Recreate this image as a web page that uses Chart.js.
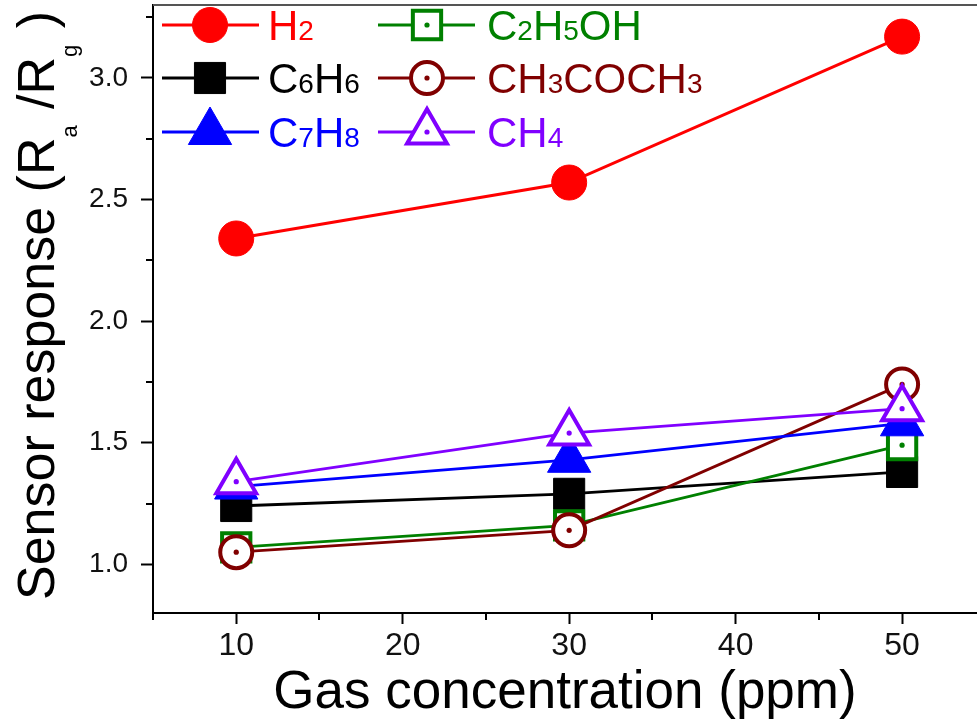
<!DOCTYPE html>
<html>
<head>
<meta charset="utf-8">
<script src="https://cdn.jsdelivr.net/npm/chart.js@4.4.1/dist/chart.umd.min.js"></script>
<style>
    body { margin: 0; background: #fff; }
    canvas { display: block; }
</style>
</head>
<body>
<canvas id="chart" width="977" height="728"></canvas>
<script>
"use strict";

// gas concentrations (ppm)
const concentrations = [10, 30, 50];

// sensor response per gas
const h2Values = [2.34, 2.57, 3.17];
const c6h6Values = [1.24, 1.29, 1.38];
const c7h8Values = [1.32, 1.43, 1.58];
const c2h5ohValues = [1.07, 1.16, 1.49];
const ch3coch3Values = [1.05, 1.14, 1.74];
const ch4Values = [1.34, 1.54, 1.64];

const gasNames = ["H2", "C6H6", "C7H8", "C2H5OH", "CH3COCH3", "CH4"];

const xTicks = [10, 20, 30, 40, 50];
const xMinorTicks = [5, 15, 25, 35, 45];
const yTicks = [1.0, 1.5, 2.0, 2.5, 3.0];
const yMinorTicks = [1.25, 1.75, 2.25, 2.75, 3.25];

(() => {

    const FONT = "'Liberation Sans', Arial, sans-serif";

    function toPoints(values) {
        return concentrations.map((c, i) => ({ x: c, y: values[i] }));
    }

    // style per gas, same order as gasNames
    const styles = [
        { values: h2Values, color: "#ff0000", shape: "circle", radius: 17.5, fill: "#ff0000", border: 1, line: 3, hollow: false, order: 6 },
        { values: c6h6Values, color: "#000000", shape: "rect", radius: 22, fill: "#000000", border: 1, line: 2.8, hollow: false, order: 5 },
        { values: c7h8Values, color: "#0000ff", shape: "triangle", radius: 25, fill: "#0000ff", border: 1, line: 2.8, hollow: false, order: 2 },
        { values: c2h5ohValues, color: "#008000", shape: "rect", radius: 20, fill: "#ffffff", border: 4, line: 2.8, hollow: true, order: 4 },
        { values: ch3coch3Values, color: "#800000", shape: "circle", radius: 16, fill: "#ffffff", border: 4, line: 2.8, hollow: true, order: 3 },
        { values: ch4Values, color: "#8000ff", shape: "triangle", radius: 23, fill: "#ffffff", border: 4, line: 2.8, hollow: true, order: 1 }
    ];

    let datasets = styles.map((s, i) => ({
        label: gasNames[i],
        data: toPoints(s.values),
        borderColor: s.color,
        backgroundColor: s.color,
        borderWidth: s.line,
        pointStyle: s.shape,
        pointRadius: s.radius,
        pointBackgroundColor: s.fill,
        pointBorderColor: s.color,
        pointBorderWidth: s.border,
        tension: 0,
        fill: false,
        clip: false,
        order: s.order,
        hollow: s.hollow
    }));

    function drawMarker(ctx, shape, x, y, r, fill, stroke, lw) {
        ctx.beginPath();
        if (shape === "circle") {
            ctx.arc(x, y, r, 0, Math.PI * 2);
        } else if (shape === "rect") {
            let h = r * Math.SQRT1_2;
            ctx.rect(x - h, y - h, 2 * h, 2 * h);
        } else {
            let a = 0;
            ctx.moveTo(x + Math.sin(a) * r, y - Math.cos(a) * r);
            a += Math.PI * 2 / 3;
            ctx.lineTo(x + Math.sin(a) * r, y - Math.cos(a) * r);
            a += Math.PI * 2 / 3;
            ctx.lineTo(x + Math.sin(a) * r, y - Math.cos(a) * r);
            ctx.closePath();
        }
        ctx.fillStyle = fill;
        ctx.fill();
        ctx.lineWidth = lw;
        ctx.strokeStyle = stroke;
        ctx.stroke();
    }

    // text where digits become subscripts
    function drawFormula(ctx, text, x, y, mainSize, subSize, color) {
        ctx.fillStyle = color;
        ctx.textBaseline = "alphabetic";
        ctx.textAlign = "left";
        for (let ch of text) {
            let isDigit = /[0-9]/.test(ch);
            ctx.font = `${isDigit ? subSize : mainSize}px ${FONT}`;
            ctx.fillText(ch, x, y);
            x += ctx.measureText(ch).width;
        }
    }

    // small dot in the middle of the hollow markers
    const centerDots = {
        id: "centerDots",
        afterDatasetDraw(chart, args) {
            let ds = chart.data.datasets[args.index];
            if (!ds.hollow) return;
            let ctx = chart.ctx;
            ctx.save();
            ctx.fillStyle = ds.borderColor;
            args.meta.data.forEach((pt) => {
                ctx.beginPath();
                ctx.arc(pt.x, pt.y, 2.6, 0, Math.PI * 2);
                ctx.fill();
            });
            ctx.restore();
        }
    };

    const frame = {
        id: "frame",
        afterDraw(chart) {
            let ctx = chart.ctx;
            let area = chart.chartArea;
            let xs = chart.scales.x;
            let ys = chart.scales.y;
            ctx.save();
            // top border
            ctx.strokeStyle = "#555";
            ctx.lineWidth = 2;
            ctx.beginPath();
            ctx.moveTo(area.left, area.top);
            ctx.lineTo(area.right, area.top);
            ctx.stroke();
            // minor ticks
            ctx.strokeStyle = "#000";
            ctx.lineWidth = 2;
            ctx.beginPath();
            xMinorTicks.forEach((v) => {
                let px = Math.round(xs.getPixelForValue(v));
                ctx.moveTo(px, area.bottom);
                ctx.lineTo(px, area.bottom + 7);
            });
            yMinorTicks.forEach((v) => {
                let py = Math.round(ys.getPixelForValue(v));
                ctx.moveTo(area.left, py);
                ctx.lineTo(area.left - 7, py);
            });
            ctx.stroke();
            ctx.restore();
        }
    };

    const yTitle = {
        id: "yTitle",
        afterDraw(chart) {
            let ctx = chart.ctx;
            ctx.save();
            ctx.translate(54, 600);
            ctx.rotate(-Math.PI / 2);
            ctx.fillStyle = "#000";
            ctx.textBaseline = "alphabetic";
            let x = 0;
            let parts = [
                ["Sensor response (R", 52, 0],
                ["a", 22, 23],
                [" /R", 52, 0],
                ["g", 22, 23],
                [" )", 52, 0]
            ];
            parts.forEach(([t, size, dy]) => {
                ctx.font = `${size}px ${FONT}`;
                ctx.fillText(t, x, dy);
                x += ctx.measureText(t).width + (size < 30 ? 2 : 0);
            });
            ctx.restore();
        }
    };

    const legendBox = {
        id: "legendBox",
        afterDraw(chart) {
            let ctx = chart.ctx;
            let rows = [25, 78, 132];
            let cols = [
                { x0: 162, x1: 259, mx: 210, tx: 268 },
                { x0: 378, x1: 475, mx: 427, tx: 487 }
            ];
            ctx.save();
            styles.forEach((s, i) => {
                let col = cols[Math.floor(i / 3)];
                let y = rows[i % 3];
                ctx.strokeStyle = s.color;
                ctx.lineWidth = s.line;
                ctx.beginPath();
                ctx.moveTo(col.x0, y);
                ctx.lineTo(col.x1, y);
                ctx.stroke();
                drawMarker(ctx, s.shape, col.mx, y, s.radius, s.fill, s.color, s.border);
                if (s.hollow) {
                    ctx.fillStyle = s.color;
                    ctx.beginPath();
                    ctx.arc(col.mx, y, 2.6, 0, Math.PI * 2);
                    ctx.fill();
                }
                drawFormula(ctx, gasNames[i], col.tx, y + 15, 42, 28, s.color);
            });
            ctx.restore();
        }
    };

    const ctx = document.getElementById("chart");

    new Chart(ctx, {
        type: "line",
        data: { datasets: datasets },
        options: {
            responsive: false,
            animation: false,
            layout: { autoPadding: false, padding: { top: 5, right: 0, bottom: 0, left: 0 } },
            plugins: {
                legend: { display: false },
                tooltip: { enabled: false }
            },
            scales: {
                x: {
                    type: "linear",
                    min: 5,
                    max: 54.5,
                    afterBuildTicks: (s) => { s.ticks = xTicks.map((v) => ({ value: v })); },
                    afterFit: (s) => { s.height = 115; s.paddingLeft = 0; s.paddingRight = 0; },
                    grid: { drawOnChartArea: false, drawTicks: true, tickLength: 11, tickWidth: 2, tickColor: "#000" },
                    border: { display: true, color: "#000", width: 2 },
                    ticks: {
                        font: { family: FONT, size: 32 },
                        color: "#111",
                        padding: 3,
                        maxRotation: 0,
                        autoSkip: false,
                        callback: (v) => String(v)
                    },
                    title: {
                        display: true,
                        text: "Gas concentration (ppm)",
                        font: { family: FONT, size: 53 },
                        color: "#000",
                        padding: { top: 0, bottom: 3 }
                    }
                },
                y: {
                    type: "linear",
                    min: 0.8,
                    max: 3.3,
                    afterBuildTicks: (s) => { s.ticks = yTicks.map((v) => ({ value: v })); },
                    afterFit: (s) => { s.width = 153; s.paddingTop = 0; s.paddingBottom = 0; },
                    grid: { drawOnChartArea: false, drawTicks: true, tickLength: 12, tickWidth: 2, tickColor: "#000" },
                    border: { display: true, color: "#000", width: 2 },
                    ticks: {
                        font: { family: FONT, size: 28 },
                        color: "#111",
                        padding: 13,
                        autoSkip: false,
                        callback: (v) => Number(v).toFixed(1)
                    }
                }
            }
        },
        plugins: [centerDots, frame, yTitle, legendBox]
    });

})();
</script>
</body>
</html>
